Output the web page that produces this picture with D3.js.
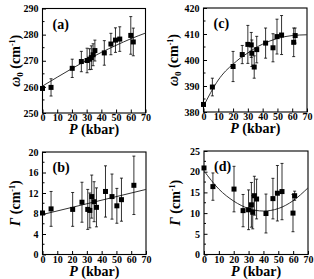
<!DOCTYPE html>
<html><head><meta charset="utf-8">
<script src="https://cdn.jsdelivr.net/npm/d3@7"></script>
<style>body{margin:0;background:#fff}svg{display:block}text{font-family:"Liberation Serif","Times New Roman",serif;font-weight:bold;fill:#000}</style>
</head><body><svg id="c" width="314" height="279"></svg>
<script>
// Panel (a): omega0 for first mode
const aP   = [0, 5.8, 20.2, 26.4, 30.3, 32, 33.2, 34.4, 35.6, 42, 46.5, 49.6, 52.5, 60, 61.7];
const aVal = [259.4, 259.8, 267.1, 269.7, 270.1, 270.6, 271.2, 272.3, 273.9, 273, 276.4, 277.9, 278.3, 279.7, 277.2];
const aErr = [0, 3.3, 3.5, 3.9, 4.7, 4.0, 4.5, 4.2, 4.0, 4.7, 4.1, 4.7, 4.7, 7.2, 5.3];
const aFitP = [0, 10, 20, 30, 40, 50, 60, 70];
const aFit  = [260.3, 263.7, 267.0, 270.2, 273.2, 275.9, 278.4, 280.6];

// Panel (b): Gamma for first mode
const bP   = [0, 5.8, 20.4, 26.7, 30.6, 32, 33.3, 34.9, 36.5, 42.6, 47, 50.3, 53.4, 61.8];
const bVal = [8.1, 8.9, 8.8, 10.2, 8.8, 8.6, 11.3, 10.3, 9.2, 12.3, 11.3, 9.5, 10.7, 13.5];
const bErr = [0, 3.4, 3.3, 3.9, 3.9, 3.4, 4.2, 3.9, 3.8, 5.0, 4.4, 3.4, 4.2, 5.7];
const bFitP = [0, 70];
const bFit  = [7.8, 12.7];

// Panel (c): omega0 for second mode
const cP   = [0, 6, 20, 26.2, 30, 32.3, 32.7, 34.3, 36, 42, 47, 49.7, 52.8, 61, 62];
const cVal = [382.9, 389.6, 397.5, 402.1, 406, 405.8, 402.6, 397.3, 404, 406.5, 404.7, 409, 409.6, 406.8, 409.4];
const cErr = [0, 3.4, 5.8, 3.5, 7.3, 4.8, 5.1, 4.3, 5.1, 5.8, 5.4, 6.7, 7.5, 5.5, 2.9];
const cFitP = [0, 5, 10, 15, 20, 25, 30, 35, 40, 50, 60, 70];
const cFit  = [382.2, 387.6, 392.3, 395.8, 398.4, 400.8, 402.7, 404.6, 406.1, 408.3, 409.4, 409.7];

// Panel (d): Gamma for second mode
const dP   = [0, 6, 20.2, 26.3, 30, 31.9, 32.8, 33.9, 35.4, 41.7, 46.4, 49.4, 52.5, 59.9, 61];
const dVal = [20.9, 16.4, 15.8, 10.6, 10.8, 12.0, 10.2, 14.2, 13.4, 9.9, 13.5, 14.8, 15.2, 10.0, 14.2];
const dErr = [0, 3.3, 5.5, 3.9, 4.8, 5.4, 4.0, 4.7, 4.8, 4.7, 4.9, 6.7, 6.8, 4.5, 1.1];
const dFitP = [0, 10, 20, 30, 40, 50, 60, 70];
const dFit  = [20.2, 15.8, 12.9, 11.1, 10.5, 11.1, 13.0, 16.1];

const xTicks = [0, 10, 20, 30, 40, 50, 60, 70];

const panels = [
  {id:"(a)", P:aP, v:aVal, e:aErr, fp:aFitP, f:aFit, dom:[250,290], ticks:[250,260,270,280,290], minor:5, ylab:"w",
   x0:42.5, x1:145.5, y0:8.5, y1:113, tx:20},
  {id:"(c)", P:cP, v:cVal, e:cErr, fp:cFitP, f:cFit, dom:[380,420], ticks:[380,390,400,410,420], minor:5, ylab:"w",
   x0:203.5, x1:307, y0:8, y1:112, tx:178},
  {id:"(b)", P:bP, v:bVal, e:bErr, fp:bFitP, f:bFit, dom:[0,20], ticks:[0,4,8,12,16,20], minor:2, ylab:"g",
   x0:42.5, x1:146, y0:152, y1:254.5, tx:20},
  {id:"(d)", P:dP, v:dVal, e:dErr, fp:dFitP, f:dFit, dom:[0,25], ticks:[0,5,10,15,20,25], minor:2.5, ylab:"g",
   x0:204, x1:308, y0:151, y1:254.5, tx:180}
];

const svg = d3.select("#c");

panels.forEach(p => {
  const x = d3.scaleLinear().domain([0,70]).range([p.x0, p.x1]);
  const y = d3.scaleLinear().domain(p.dom).range([p.y1, p.y0]);
  const g = svg.append("g");

  // minor ticks on y
  const minors = d3.range(p.dom[0], p.dom[1] + 1e-9, p.minor).filter(t => !p.ticks.includes(t));
  g.selectAll(".mn").data(minors).join("line")
    .attr("x1", p.x0).attr("x2", p.x0 + 2)
    .attr("y1", d => y(d)).attr("y2", d => y(d))
    .attr("stroke", "#000").attr("stroke-width", 1);

  const yAxis = d3.axisLeft(y).tickValues(p.ticks).tickSizeInner(-3.5).tickSizeOuter(0).tickPadding(4);
  const ya = g.append("g").attr("transform", `translate(${p.x0},0)`).call(yAxis);
  ya.select(".domain").remove();
  ya.selectAll("text").style("font-size", "10px");

  const xAxis = d3.axisBottom(x).tickValues(xTicks).tickSizeInner(-3.5).tickSizeOuter(0).tickPadding(1);
  const xa = g.append("g").attr("transform", `translate(0,${p.y1})`).call(xAxis);
  xa.select(".domain").remove();
  xa.selectAll("text").style("font-size", "10px").attr("dy", "0.71em");

  // frame
  g.append("rect").attr("x", p.x0).attr("y", p.y0).attr("width", p.x1 - p.x0).attr("height", p.y1 - p.y0)
    .attr("fill", "none").attr("stroke", "#000").attr("stroke-width", 1.1);

  // fit curve
  const fit = p.fp.map((t, i) => [t, p.f[i]]);
  g.append("path").datum(fit)
    .attr("d", d3.line().x(d => x(d[0])).y(d => y(d[1])).curve(d3.curveMonotoneX))
    .attr("fill", "none").attr("stroke", "#333").attr("stroke-width", 1);

  // error bars
  const pts = p.P.map((t, i) => ({P:t, v:p.v[i], e:p.e[i]}));
  const eb = g.selectAll(".eb").data(pts.filter(d => d.e > 0)).join("g");
  eb.append("line").attr("x1", d => x(d.P)).attr("x2", d => x(d.P))
    .attr("y1", d => y(d.v + d.e)).attr("y2", d => y(d.v - d.e))
    .attr("stroke", "#000").attr("stroke-width", 0.8);
  [1, -1].forEach(s => {
    eb.append("line").attr("x1", d => x(d.P) - 1.5).attr("x2", d => x(d.P) + 1.5)
      .attr("y1", d => y(d.v + s * d.e)).attr("y2", d => y(d.v + s * d.e))
      .attr("stroke", "#000").attr("stroke-width", 0.8);
  });

  // markers
  g.selectAll(".pt").data(pts).join("rect")
    .attr("x", d => x(d.P) - 2.5).attr("y", d => y(d.v) - 2.5)
    .attr("width", 5).attr("height", 5).attr("fill", "#000");

  // panel label
  g.append("text").attr("x", p.x0 + 10).attr("y", p.y0 + 20).style("font-size", "14px").text(p.id);

  // x title
  const xt = g.append("text").attr("x", (p.x0 + p.x1) / 2).attr("y", p.y1 + 21)
    .attr("text-anchor", "middle").style("font-size", "14px");
  xt.append("tspan").style("font-style", "italic").text("P");
  xt.append("tspan").text(" (kbar)");

  // y title
  const cy = (p.y0 + p.y1) / 2;
  const yt = g.append("text").attr("transform", `translate(${p.tx},${cy}) rotate(-90)`)
    .attr("text-anchor", "middle").style("font-size", "14px");
  if (p.ylab === "w") {
    yt.append("tspan").style("font-style", "italic").text("ω");
    yt.append("tspan").attr("dy", 3).style("font-size", "9px").text("0");
    yt.append("tspan").attr("dy", -3).text(" (cm");
  } else {
    yt.append("tspan").style("font-style", "italic").text("Γ");
    yt.append("tspan").text(" (cm");
  }
  yt.append("tspan").attr("dy", -5).style("font-size", "8px").text("-1");
  yt.append("tspan").attr("dy", 5).text(")");
});
</script></body></html>
